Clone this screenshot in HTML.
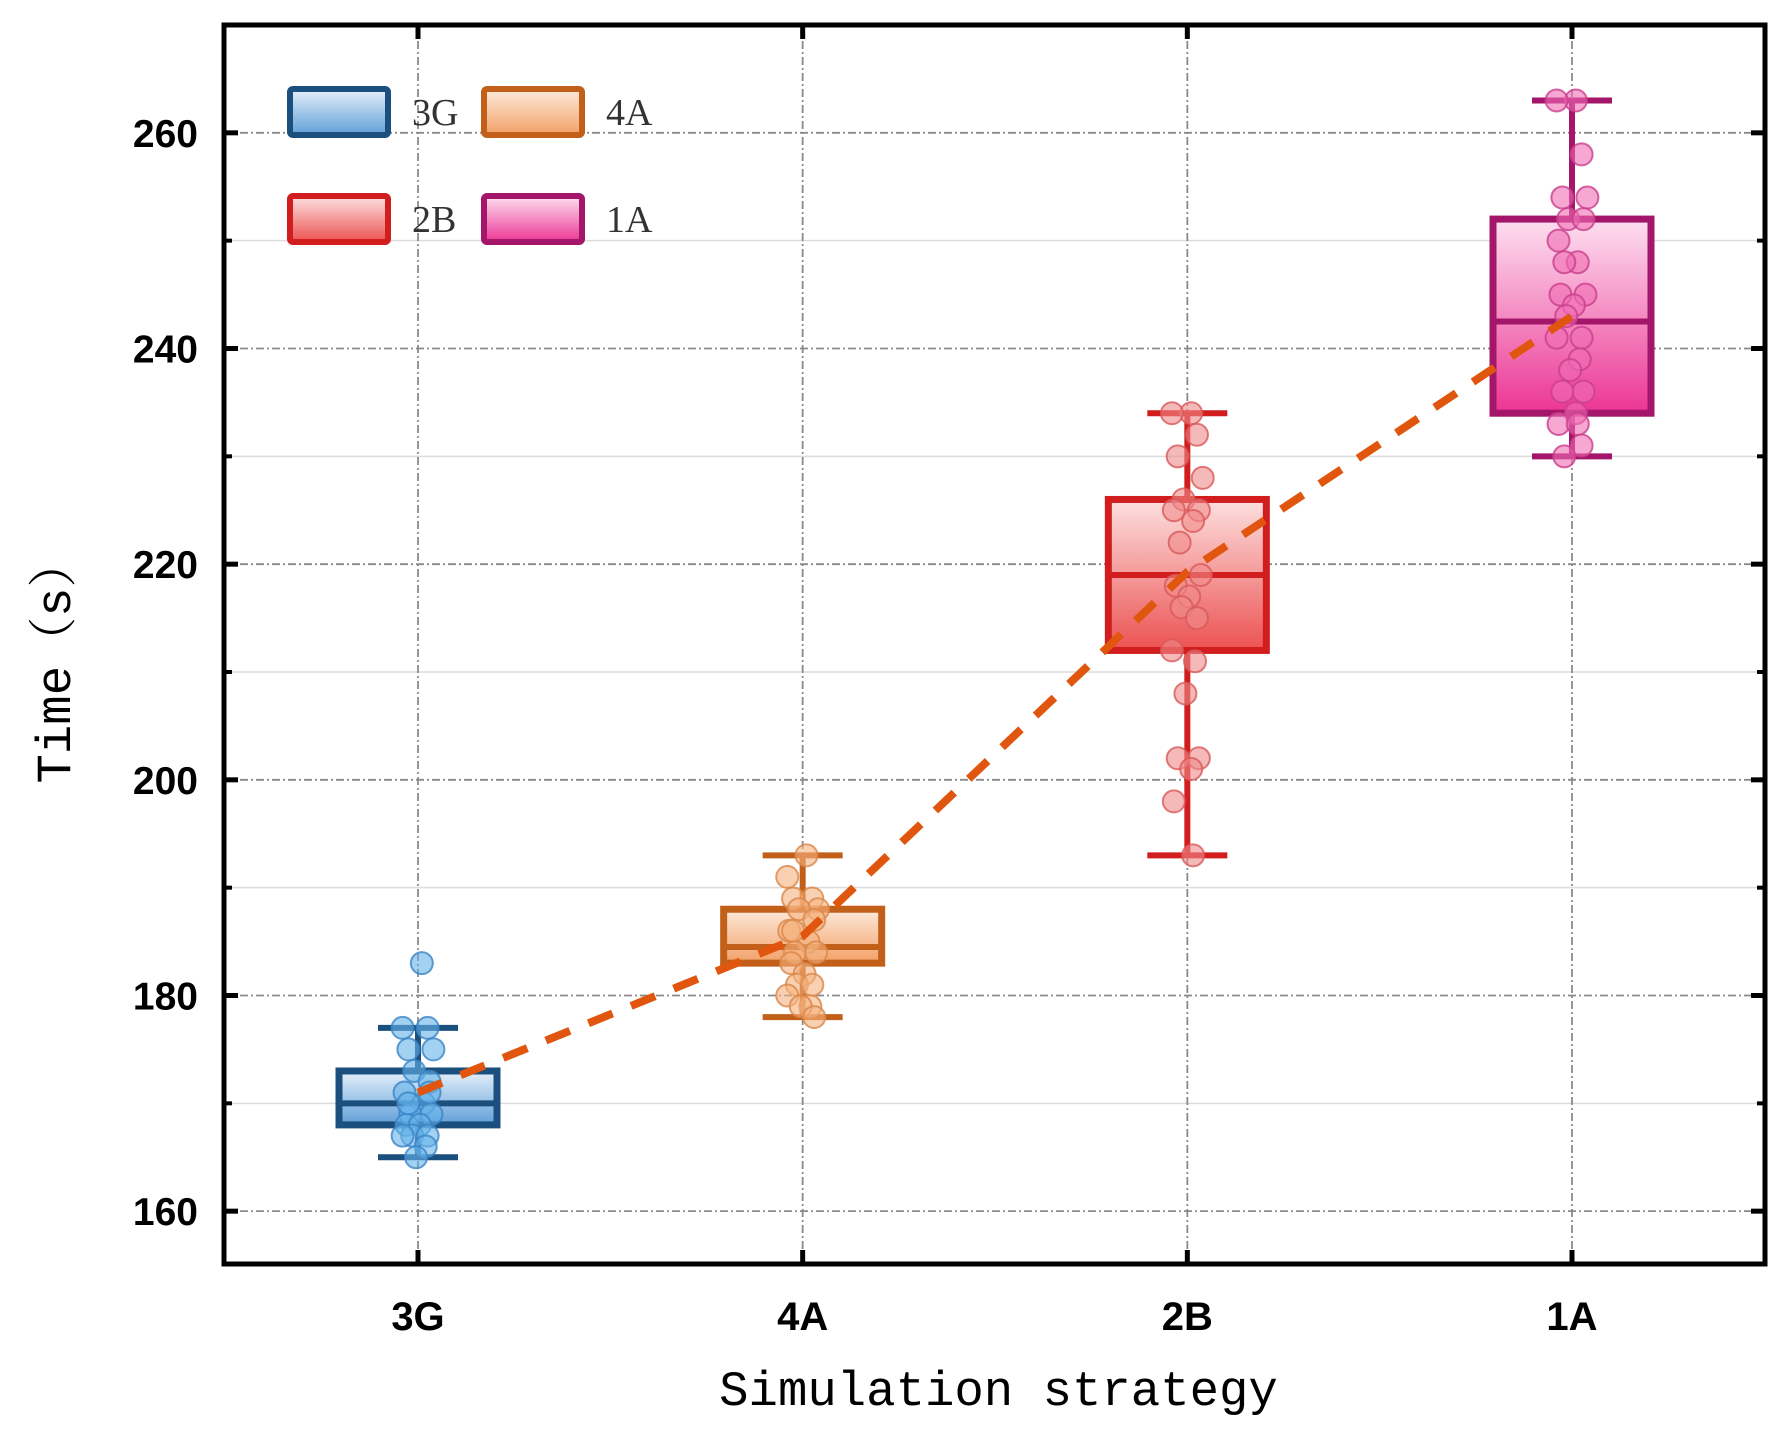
<!DOCTYPE html>
<html><head><meta charset="utf-8"><style>
html,body{margin:0;padding:0;background:#fff;}
svg{display:block;}
</style></head><body>
<svg id="chart" width="1786" height="1441" viewBox="0 0 1786 1441" xmlns="http://www.w3.org/2000/svg">
<defs>
<linearGradient id="g0" x1="0" y1="0" x2="0" y2="1"><stop offset="0" stop-color="#e6f0fa"/><stop offset="1" stop-color="#5f9fd8"/></linearGradient>
<linearGradient id="g1" x1="0" y1="0" x2="0" y2="1"><stop offset="0" stop-color="#fdeadc"/><stop offset="1" stop-color="#f2a066"/></linearGradient>
<linearGradient id="g2" x1="0" y1="0" x2="0" y2="1"><stop offset="0" stop-color="#fde0e0"/><stop offset="1" stop-color="#ec5252"/></linearGradient>
<linearGradient id="g3" x1="0" y1="0" x2="0" y2="1"><stop offset="0" stop-color="#fde0f0"/><stop offset="1" stop-color="#ec3594"/></linearGradient>
</defs>
<g id="grid"></g>
<g id="marks"></g>
<g id="axes"></g>
</svg>
<script>
const categories = ["3G","4A","2B","1A"];
const q1 = [168,183,212,234];
const medians = [170,184.5,219,242.5];
const q3 = [173,188,226,252];
const whiskerLow = [165,178,193,230];
const whiskerHigh = [177,193,234,263];
const means = [171,185.5,219.3,243];
const points3G = [183,177,177,175,175,173,172,171,170,169,169,168,168,167,167,167,166,165,171,170];
const points4A = [193,191,189,189,188,188,187,186,185,184,184,183,182,181,181,180,179,179,178,186];
const points2B = [234,234,232,230,228,226,225,225,224,222,219,218,217,216,215,212,211,208,202,202,201,198,193];
const points1A = [263,263,258,254,254,252,252,250,248,248,245,245,244,243,241,241,239,238,236,236,234,233,233,231,230];
const jitter = [0.02,-0.08,0.05,-0.05,0.08,-0.02,0.06,-0.07,0.03,-0.04,0.07,-0.06,0.01,-0.03,0.05,-0.08,0.04,-0.01,0.06,-0.05,0.02,-0.07,0.03,0.05,-0.04];
const yTicks = [160,180,200,220,240,260];
const yMinor = [170,190,210,230,250];

const L=224,R=1765,T=25,B=1264;
const yMin=155.1,yMax=270;
const X0=418,X3=1572;
const xs = i => X0 + i*(X3-X0)/3;
const ys = v => B - (v-yMin)/(yMax-yMin)*(B-T);
const NS="http://www.w3.org/2000/svg";
function mk(tag,attrs,parent){const e=document.createElementNS(NS,tag);for(const k in attrs)e.setAttribute(k,attrs[k]);parent.appendChild(e);return e;}
const grid=document.getElementById('grid'),marks=document.getElementById('marks'),axes=document.getElementById('axes');
const strokes=["#1b4f7d","#c2601a","#d11d1d","#a3166a"];
const ptFill=["#66b2ea","#f5b27e","#f08a8a","#f06cb4"];
const ptStroke=["#3b84c6","#d9874a","#d85a5a","#c8408c"];
const allPoints=[points3G,points4A,points2B,points1A];

yMinor.forEach(v=>{const l=mk('line',{x1:L,x2:R,y1:ys(v),y2:ys(v),stroke:'#dcdcdc','stroke-width':1.5},grid);

});
yTicks.forEach(v=>{const l=mk('line',{x1:L,x2:R,y1:ys(v),y2:ys(v),stroke:'#8a8a8a','stroke-width':1.8,'stroke-dasharray':'8 3 2 3'},grid);

});
categories.forEach((c,i)=>{const l=mk('line',{x1:xs(i),x2:xs(i),y1:T,y2:B,stroke:'#8a8a8a','stroke-width':1.8,'stroke-dasharray':'8 3 2 3'},grid);

});

const bw=158, cap=80;
categories.forEach((c,i)=>{
  const g=mk('g',{},marks);
  
  
  const x=xs(i),s=strokes[i];
  mk('line',{x1:x,x2:x,y1:ys(whiskerHigh[i]),y2:ys(q3[i]),stroke:s,'stroke-width':6},g);
  mk('line',{x1:x,x2:x,y1:ys(q1[i]),y2:ys(whiskerLow[i]),stroke:s,'stroke-width':6},g);
  mk('line',{x1:x-cap/2,x2:x+cap/2,y1:ys(whiskerHigh[i]),y2:ys(whiskerHigh[i]),stroke:s,'stroke-width':6},g);
  mk('line',{x1:x-cap/2,x2:x+cap/2,y1:ys(whiskerLow[i]),y2:ys(whiskerLow[i]),stroke:s,'stroke-width':6},g);
  mk('rect',{x:x-bw/2,y:ys(q3[i]),width:bw,height:ys(q1[i])-ys(q3[i]),fill:'url(#g'+i+')',stroke:s,'stroke-width':7},g);
  mk('line',{x1:x-bw/2,x2:x+bw/2,y1:ys(medians[i]),y2:ys(medians[i]),stroke:s,'stroke-width':6},g);
  allPoints[i].forEach((v,j)=>{
    const p=mk('circle',{cx:x+jitter[j%jitter.length]*(X3-X0)/3*0.5,cy:ys(v),r:11,fill:ptFill[i],'fill-opacity':0.6,stroke:ptStroke[i],'stroke-width':2,'stroke-opacity':0.8},g);
    
    
  });
});
const meanLine=mk('polyline',{points:means.map((v,i)=>xs(i)+','+ys(v)).join(' '),fill:'none',stroke:'#e0560e','stroke-width':8,'stroke-dasharray':'26 20'},marks);



const fr=mk('rect',{x:L,y:T,width:R-L,height:B-T,fill:'none',stroke:'#000','stroke-width':5},axes);


yTicks.forEach(v=>{
  mk('line',{x1:L,x2:L+14,y1:ys(v),y2:ys(v),stroke:'#000','stroke-width':5},axes);
  mk('line',{x1:R-14,x2:R,y1:ys(v),y2:ys(v),stroke:'#000','stroke-width':5},axes);
  const t=mk('text',{x:L-26,y:ys(v)+14,'text-anchor':'end','font-family':'Liberation Sans, sans-serif','font-weight':'bold','font-size':39},axes);
  t.textContent=v;
  
  
});
yMinor.forEach(v=>{
  mk('line',{x1:L,x2:L+8,y1:ys(v),y2:ys(v),stroke:'#000','stroke-width':4},axes);
  mk('line',{x1:R-8,x2:R,y1:ys(v),y2:ys(v),stroke:'#000','stroke-width':4},axes);
});
categories.forEach((c,i)=>{
  mk('line',{x1:xs(i),x2:xs(i),y1:B-14,y2:B,stroke:'#000','stroke-width':5},axes);
  mk('line',{x1:xs(i),x2:xs(i),y1:T,y2:T+14,stroke:'#000','stroke-width':5},axes);
  const t=mk('text',{x:xs(i),y:1330,'text-anchor':'middle','font-family':'Liberation Sans, sans-serif','font-weight':'bold','font-size':40},axes);
  t.textContent=c;
  
  
});
const xt=mk('text',{x:(L+R)/2+4,y:1405,'text-anchor':'middle','font-family':'Liberation Mono, monospace','font-size':49},axes);
xt.textContent='Simulation strategy';


const yt=mk('text',{x:0,y:0,'text-anchor':'middle','font-family':'Liberation Mono, "Noto Serif CJK SC", monospace','font-size':49,transform:'translate(70,661) rotate(-90)'},axes);
yt.textContent='Time（s）';



const leg=[[290,89,0],[484,89,1],[290,196,2],[484,196,3]];
leg.forEach(([lx,ly,i])=>{
  const g=mk('g',{},axes);
  
  
  mk('rect',{x:lx,y:ly,width:98,height:46,rx:3,fill:'url(#g'+i+')',stroke:strokes[i],'stroke-width':6},g);
  const t=mk('text',{x:lx+122,y:ly+36,'font-family':'Liberation Serif, serif','font-size':38,fill:'#333'},g);
  t.textContent=categories[i];
});
</script>
</body></html>
